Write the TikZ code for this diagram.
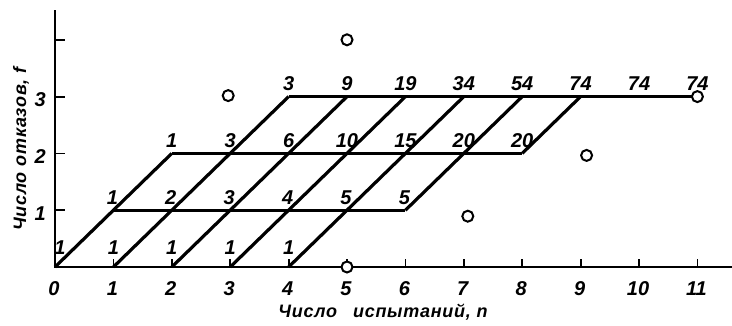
\documentclass[tikz,border=0pt]{standalone}
\usepackage{fontspec}
\setmainfont{Liberation Sans}
\usetikzlibrary{calc}
\begin{document}
\begin{tikzpicture}[x=58.4pt,y=56.8pt,
  axis/.style={line width=2.6pt},
  tickmark/.style={line width=1.8pt},
  hline/.style={line width=2.6pt},
  dline/.style={line width=3.2pt},
  num/.style={font=\fontsize{20}{20}\selectfont\bfseries\itshape, inner sep=0pt},
  lattnum/.style={num, anchor=base, yshift=6pt},
  basenum/.style={num, anchor=base, yshift=13pt},
  xnum/.style={num, anchor=base, yshift=-28pt, xshift=-1pt},
  ynum/.style={num, anchor=base east, xshift=-9pt, yshift=-10pt},
  ring/.style={circle, draw, line width=2pt, minimum size=11pt, inner sep=0pt, fill=white},
  axlabel/.style={font=\fontsize{18}{18}\selectfont\bfseries\itshape\addfontfeature{LetterSpace=4}, inner sep=0pt}
]
\useasboundingbox (-55pt,-58pt) rectangle (677pt,267pt);
\foreach \n in {0,...,11}{\foreach \f in {0,...,4}{\coordinate (p-\n-\f) at (\n,\f);}}
\coordinate (ytop) at (0,257pt);
\coordinate (xend) at (677pt,0);
% axes
\draw[axis] (ytop) -- (p-0-0) -- (xend);
\foreach \f in {1,...,4}{\draw[tickmark] (p-0-\f) -- ++(10pt,0);}
\foreach \n in {1,...,11}{\draw[tickmark] (p-\n-0) -- ++(0,8pt);}
% horizontals
\draw[hline] (p-1-1) -- (p-6-1);
\draw[hline] (p-2-2) -- (p-8-2);
\draw[hline] (p-4-3) -- (p-11-3);
% diagonals
\draw[dline] (p-0-0) -- (p-2-2);
\draw[dline] (p-1-0) -- (p-4-3);
\draw[dline] (p-2-0) -- (p-5-3);
\draw[dline] (p-3-0) -- (p-6-3);
\draw[dline] (p-4-0) -- (p-7-3);
\draw[dline] (p-6-1) -- (p-8-3);
\draw[dline] (p-8-2) -- (p-9-3);
% labels f=0
\node[basenum, xshift=5pt] (l00) at (p-0-0) {1};
\foreach \n in {1,...,4}{\node[basenum] (l\n0) at (p-\n-0) {1};}
% f=1
\foreach \n/\v in {1/1,2/2,3/3,4/4,5/5,6/5}{\node[lattnum, xshift=-1pt] (l\n1) at (p-\n-1) {\v};}
% f=2
\foreach \n/\v in {2/1,3/3,4/6,5/10,6/15,7/20,8/20}{\node[lattnum] (l\n2) at (p-\n-2) {\v};}
% f=3
\foreach \n/\v in {4/3,5/9,6/19,7/34,8/54,9/74,10/74,11/74}{\node[lattnum] (l\n3) at (p-\n-3) {\v};}
% axis numbers
\foreach \n in {0,...,11}{\node[xnum] (x\n) at (p-\n-0) {\n};}
\foreach \f in {1,2,3}{\node[ynum] (y\f) at (p-0-\f) {\f};}
% circles
\node[ring] (c1) at (p-5-0) {};
\node[ring] (c2) at (p-11-3) {};
\node[ring] (c3) at ($(p-3-3)+(-2pt,1pt)$) {};
\node[ring] (c4) at (p-5-4) {};
\node[ring] (c5) at ($(p-7-1)+(4pt,-6pt)$) {};
\node[ring] (c6) at ($(p-9-2)+(6pt,-2pt)$) {};
% axis titles
\node[axlabel] (xt) at (328pt,-45pt) {Число\hspace{16pt}испытаний, n};
\node[axlabel, rotate=90] (yt) at (-34pt,118pt) {Число отказов, f};
\end{tikzpicture}
\end{document}
